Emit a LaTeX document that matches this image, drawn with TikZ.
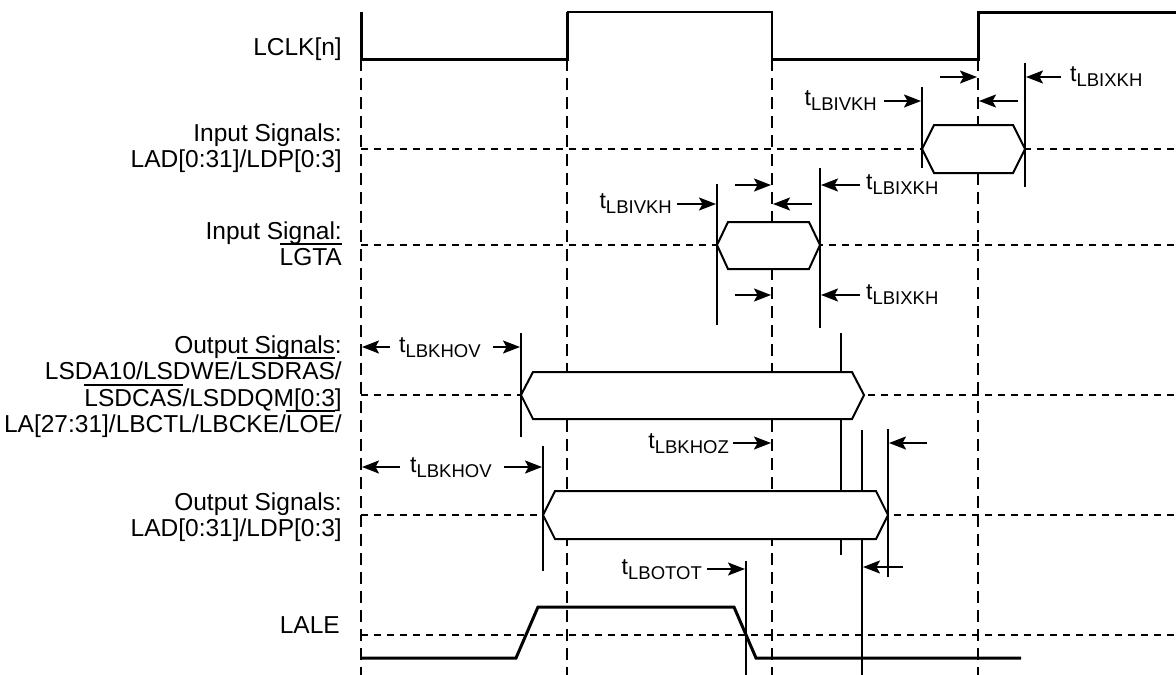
\documentclass[tikz,border=0pt]{standalone}
\usepackage{fontspec}
\setmainfont{Liberation Sans}
\usetikzlibrary{arrows.meta}
\newsavebox\ovlbox
\newcommand\ovl[1]{\sbox\ovlbox{#1}\rlap{\rule[\dimexpr\ht\ovlbox+3pt\relax]{\wd\ovlbox}{1.4pt}}\usebox\ovlbox}
\newcommand\tsub[1]{t\raisebox{-5pt}{\fontsize{18.5}{20}\selectfont #1}}
\begin{document}
\begin{tikzpicture}[x=1pt,y=-1pt,
  clk/.style={line width=3pt, line join=miter},
  vdash/.style={line width=2pt, dash pattern=on 12pt off 7pt},
  hdash/.style={line width=1.6pt, dash pattern=on 7pt off 6pt},
  tline/.style={line width=2pt},
  hexa/.style={line width=2pt, fill=white, line join=miter},
  arr/.style={line width=2pt, -{Stealth[length=17pt,width=13pt,inset=3.5pt]}},
  sig/.style={font=\fontsize{24.5}{26}\selectfont, anchor=base east, inner sep=0pt},
  tlw/.style={font=\fontsize{23}{26}\selectfont, anchor=base west, inner sep=0pt},
  tle/.style={font=\fontsize{23}{26}\selectfont, anchor=base east, inner sep=0pt}
]
\useasboundingbox (0,0) rectangle (1176,675);

% reference lines
\foreach \x in {361,567,772,978} \draw[vdash] (\x,59) -- (\x,675);
\foreach \y in {149,245,395,515,635} \draw[hdash] (361,\y) -- (1176,\y);

% clock
\draw[clk] (361,12) -- (361,59) -- (567,59) -- (567,12);
\draw[line width=2pt] (567,12) -- (772,12) -- (772,59);
\draw[clk] (772,59) -- (978,59) -- (978,12) -- (1176,12);

% timing marker lines
\draw[tline] (922,87) -- (922,168);
\draw[tline] (1025,63) -- (1025,187);
\draw[tline] (717,184) -- (717,325);
\draw[tline] (820,168) -- (820,328);
\draw[tline] (521,333) -- (521,437);
\draw[tline] (543,446) -- (543,571);
\draw[tline] (841,333) -- (841,555);
\draw[tline] (862,430) -- (862,675);
\draw[tline] (888,429) -- (888,577);
\draw[tline] (746,561) -- (746,675);

% valid windows
\draw[hexa] (922,149) -- (934,125) -- (1013,125) -- (1025,149) -- (1013,173) -- (934,173) -- cycle;
\draw[hexa] (717,245) -- (728,222) -- (809,222) -- (820,245) -- (809,269) -- (728,269) -- cycle;
\draw[hexa] (521,395) -- (533,372) -- (852,372) -- (864,395) -- (852,419) -- (533,419) -- cycle;
\draw[hexa] (543,515) -- (555,491) -- (876,491) -- (888,515) -- (876,539) -- (555,539) -- cycle;

% LALE
\draw[clk] (361,658) -- (516,658) -- (538,607) -- (734,607) -- (756,658) -- (1021,658);

% signal names
\node[sig] (n1) at (342,55) {LCLK[n]};
\node[sig] (n2) at (342,141) {Input Signals:};
\node[sig] (n3) at (342,167) {LAD[0:31]/LDP[0:3]};
\node[sig] (n4) at (342,239) {Input Signal:};
\node[sig] (n5) at (342,265) {\ovl{LGTA}};
\node[sig] (n6) at (342,353) {Output Signals:};
\node[sig] (n7) at (342,379) {LSDA10/LSDWE/\ovl{LSDRAS}/};
\node[sig] (n8) at (342,406) {\ovl{LSDCAS}/LSDDQM[0:3]};
\node[sig] (n9) at (342,432) {LA[27:31]/LBCTL/LBCKE/\ovl{LOE}/};
\node[sig] (n10) at (342,510) {Output Signals:};
\node[sig] (n11) at (342,536) {LAD[0:31]/LDP[0:3]};
\node[sig] (n12) at (340,633) {LALE};

% input signals row
\node[tle] (a1) at (877,105) {\tsub{LBIVKH}};
\draw[arr] (884,101) -- (921,101);
\draw[arr] (940,77) -- (977,77);
\draw[arr] (1018,101) -- (979,101);
\node[tlw] (a2) at (1070,81) {\tsub{LBIXKH}};
\draw[arr] (1061,77) -- (1026,77);

% LGTA row
\node[tle] (b1) at (672,208) {\tsub{LBIVKH}};
\draw[arr] (677,204) -- (716,204);
\draw[arr] (735,185) -- (771,185);
\draw[arr] (812,204) -- (773,204);
\node[tlw] (b2) at (866,189) {\tsub{LBIXKH}};
\draw[arr] (860,185) -- (821,185);
\draw[arr] (735,295) -- (771,295);
\node[tlw] (b3) at (866,299) {\tsub{LBIXKH}};
\draw[arr] (860,295) -- (821,295);

% output rows
\node[tlw] (c1) at (399,352) {\tsub{LBKHOV}};
\draw[arr] (390,347) -- (362,347);
\draw[arr] (493,347) -- (520,347);
\node[tle] (c2) at (729,448) {\tsub{LBKHOZ}};
\draw[arr] (733,443) -- (771,443);
\draw[arr] (927,443) -- (889,443);
\node[tlw] (c3) at (410,472) {\tsub{LBKHOV}};
\draw[arr] (400,467) -- (362,467);
\draw[arr] (504,467) -- (542,467);
\node[tle] (c4) at (702,574) {\tsub{LBOTOT}};
\draw[arr] (707,569) -- (745,569);
\draw[arr] (903,567) -- (863,567);
\end{tikzpicture}
\end{document}
